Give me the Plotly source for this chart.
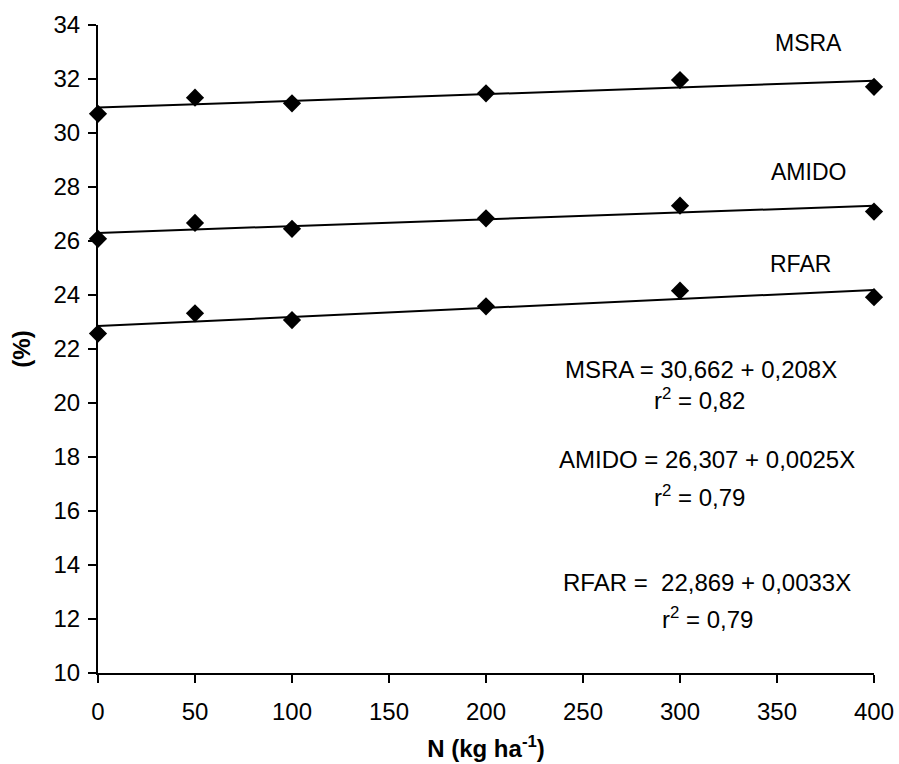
import numpy as np
import plotly.graph_objects as go

N = [0, 50, 100, 200, 300, 400]
MSRA = [30.71, 31.31, 31.10, 31.47, 31.96, 31.71]
AMIDO = [26.08, 26.67, 26.45, 26.84, 27.31, 27.09]
RFAR = [22.57, 23.32, 23.07, 23.58, 24.16, 23.92]

series = [("MSRA", MSRA), ("AMIDO", AMIDO), ("RFAR", RFAR)]
FONT = "Liberation Sans, Arial, sans-serif"

fig = go.Figure()
xfit = np.array([0, 400])
for name, ys in series:
    slope, icpt = np.polyfit(N, ys, 1)
    fig.add_trace(go.Scatter(x=xfit, y=icpt + slope * xfit, mode="lines",
                             line=dict(color="black", width=2), showlegend=False,
                             hoverinfo="skip"))
    fig.add_trace(go.Scatter(x=N, y=ys, mode="markers", name=name,
                             marker=dict(symbol="diamond", size=14, color="black"),
                             showlegend=False, cliponaxis=False))

labels = [("MSRA", 366, 33.35), ("AMIDO", 366, 28.55), ("RFAR", 362, 25.15)]
for t, x, y in labels:
    fig.add_annotation(x=x, y=y, text=t, showarrow=False,
                       font=dict(family=FONT, size=23, color="black"))

eqs = [
    ("MSRA = 30,662 + 0,208X", 311, 21.25),
    ("r<sup>2</sup> = 0,82", 310, 20.15),
    ("AMIDO = 26,307 + 0,0025X", 314, 17.9),
    ("r<sup>2</sup> = 0,79", 310, 16.55),
    ("RFAR =  22,869 + 0,0033X", 314, 13.35),
    ("r<sup>2</sup> = 0,79", 314, 12.05),
]
for t, x, y in eqs:
    fig.add_annotation(x=x, y=y, text=t, showarrow=False,
                       font=dict(family=FONT, size=24, color="black"))

fig.update_layout(
    width=899, height=764,
    margin=dict(l=98, r=25, t=25, b=91, autoexpand=False),
    plot_bgcolor="white", paper_bgcolor="white",
    font=dict(family=FONT, size=24, color="black"),
    xaxis=dict(range=[0, 400], tickvals=[0, 50, 100, 150, 200, 250, 300, 350, 400],
               automargin=False,
               showgrid=False, zeroline=False, showline=True, linecolor="black",
               linewidth=2, ticks="outside", ticklen=8, tickwidth=2, tickcolor="black",
               tickfont=dict(size=24), ticklabelstandoff=8,
               title=dict(text="<b>N (kg ha<sup>-1</sup>)</b>", font=dict(size=24), standoff=16)),
    yaxis=dict(range=[10, 34], tickvals=list(range(10, 35, 2)),
               automargin=False,
               showgrid=False, zeroline=False, showline=True, linecolor="black",
               linewidth=2, ticks="outside", ticklen=8, tickwidth=2, tickcolor="black",
               tickfont=dict(size=24), ticklabelstandoff=3,
               title=dict(text="<b>(%)</b>", font=dict(size=24), standoff=16)),
)

fig.write_html("out.html", config={"displayModeBar": False},
               post_script="document.body.style.margin='0px';")
